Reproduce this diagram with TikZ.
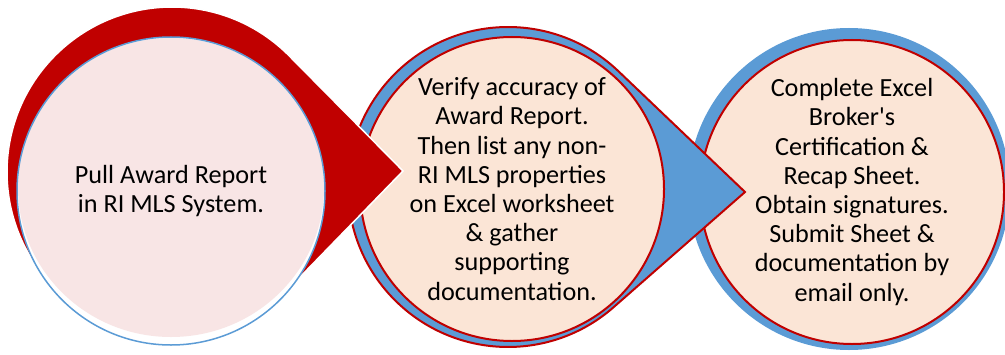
\documentclass[tikz,border=0pt]{standalone}
\usepackage{fontspec}
\setmainfont{Carlito}[Ligatures=TeXOff]
\usepackage{tikz}
\definecolor{dropred}{RGB}{192, 0, 0}
\definecolor{dropblue}{RGB}{91, 155, 213}
\definecolor{peachfill}{RGB}{251, 229, 214}
\definecolor{pinkfill}{RGB}{248, 229, 229}
\definecolor{textblack}{RGB}{0, 0, 0}

\begin{document}
\begin{tikzpicture}[
        x=0.5pt, y=0.5pt,
        steptext/.style={align=center, font=\fontsize{13.1}{14.6}\selectfont, text=textblack},
        stepcircle/.style={circle, draw=dropred, line width=1pt, fill=peachfill, minimum size=152pt, inner sep=0pt, steptext},
        ringcircle/.style={circle, fill=dropblue, minimum size=161pt, inner sep=0pt},
        reddrop/.style={fill=dropred, draw=white, line width=0.75pt, line join=miter},
        bluedrop/.style={fill=dropblue, draw=dropred, line width=1pt, line join=miter}
    ]

    \useasboundingbox (0,0) rectangle (1005,354);

    % Step 3
    \node[ringcircle] (ring3) at (849,165) {};
    \node[stepcircle] (submit) at (852,162) {Complete Excel\\ Broker's\\ Certification \&\\ Recap Sheet.\\ Obtain signatures.\\ Submit Sheet \&\\ documentation by\\ email only.};

    % Step 2
    \coordinate (verify c) at (508,167);
    \coordinate (tip2) at (745,162);
    \draw[bluedrop] (tip2) -- ([shift={(46.3:160)}]verify c) arc[start angle=46.3, end angle=311.3, radius=80pt] -- cycle;
    \node[stepcircle] (verify) at (512,165) {Verify accuracy of\\ Award Report.\\ Then list any non-\\ RI MLS properties\\ on Excel worksheet\\ \& gather\\ supporting\\ documentation.};

    % Step 1
    \coordinate (pull c) at (172,182);
    \coordinate (tip1) at (403,183);
    \draw[reddrop] (tip1) -- ([shift={(44.4:165)}]pull c) arc[start angle=44.4, end angle=315.6, radius=82.5pt] -- cycle;
    \node[circle, draw=dropblue, line width=0.75pt, fill=white, minimum size=154pt, inner sep=0pt, steptext,
        path picture={\fill[pinkfill] ([yshift=1.75pt]path picture bounding box.center) ellipse [x radius=76.5pt, y radius=74.75pt];}]
        (pull) at (171,163) {Pull Award Report\\ in RI MLS System.};

\end{tikzpicture}
\end{document}
